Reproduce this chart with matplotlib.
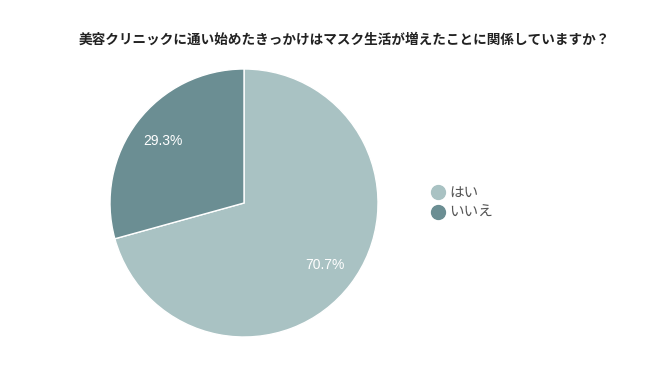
import matplotlib.pyplot as plt
from matplotlib.lines import Line2D

plt.rcParams['font.family'] = ['Noto Sans CJK JP', 'DejaVu Sans']

title = '美容クリニックに通い始めたきっかけはマスク生活が増えたことに関係していますか？'
labels = ['はい', 'いいえ']
values = [70.7, 29.3]
colors = ['#a9c2c3', '#6b8e93']

W, H = 650, 379
fig = plt.figure(figsize=(W / 100, H / 100), dpi=100)

# pie centre ~ (244, 203) px, radius ~134 px
cx, cy, r = 244, 203, 134
ax = fig.add_axes([(cx - r) / W, (H - cy - r) / H, 2 * r / W, 2 * r / H])
wedges, _, autotexts = ax.pie(values, colors=colors, startangle=90, counterclock=False,
                              autopct='%.1f%%', pctdistance=0.76,
                              wedgeprops=dict(edgecolor='white', linewidth=1))
for t in autotexts:
    t.set_color('white')
    t.set_fontsize(10)
    t.set_family(['Liberation Sans', 'DejaVu Sans'])
ax.set_xlim(-1, 1)
ax.set_ylim(-1, 1)

fig.text(344 / W, 1 - 40 / H, title, ha='center', va='center',
         fontsize=9.8, fontweight='bold', color='#222222')

handles = [Line2D([], [], marker='o', linestyle='', markersize=10,
                  markerfacecolor=c, markeredgecolor=c) for c in colors]
fig.legend(handles, labels, loc='center left', bbox_to_anchor=(416 / W, 1 - 203 / H),
           frameon=False, fontsize=10.5, labelcolor='#555555', handletextpad=0.2,
           labelspacing=0.45, handlelength=1.2)

fig.savefig('out.png', dpi=100)
